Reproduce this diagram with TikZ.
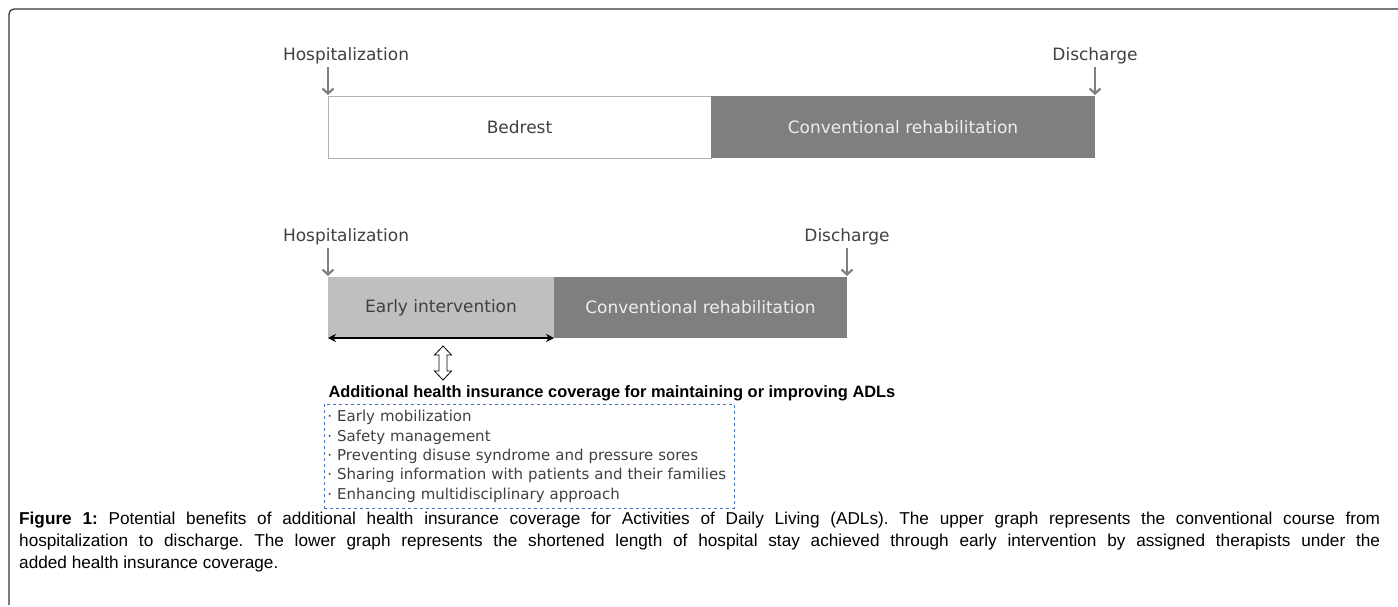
\documentclass[tikz,border=0pt]{standalone}
\usepackage{fontspec}
\setmainfont{DejaVu Sans}
\newfontfamily\capfont{Liberation Sans}
\usetikzlibrary{positioning,arrows.meta,calc}

\definecolor{darkbar}{HTML}{7F7F7F}
\definecolor{lightbar}{HTML}{BFBFBF}
\definecolor{labelgray}{HTML}{404040}
\definecolor{dashblue}{HTML}{4472C4}

\begin{document}
\begin{tikzpicture}[x=1pt,y=-1pt,node distance=0pt,shorten >=1pt]

  \tikzset{
    bar/.style={inner sep=0pt,outer sep=0pt,anchor=north west,text=labelgray,
      font=\fontsize{17}{20}\selectfont},
    darkpart/.style={bar,fill=darkbar,text=white!93!black},
    lbl/.style={anchor=base,text=labelgray,font=\fontsize{17}{20}\selectfont},
    garrow/.style={-{Straight Barb[length=5pt,width=11pt]},line width=2.2pt,darkbar},
    span/.style={{Stealth[length=8pt,width=8pt]}-{Stealth[length=8pt,width=8pt]},line width=2.2pt,black},
    hollow/.style={draw=black,fill=white,line width=0.8pt,line join=miter},
  }

   \useasboundingbox (0,0) rectangle (1398,606);
   \draw[black!80,line width=1.3pt,rounded corners=5pt] (1398,9) -- (9,9) -- (9,606);

   % upper graph
   \node[bar,draw=gray!60,fill=white,minimum width=383pt,minimum height=62pt] (bedrest) at (328,96) {Bedrest};
   \node[darkpart,minimum width=384pt,minimum height=62pt,right=of bedrest] (convA) {Conventional rehabilitation};

   \coordinate (hospA) at ($(bedrest.north west)+(0,-29)$);
   \coordinate (dischA) at ($(convA.north east)+(0,-29)$);
   \node[lbl] (hospAl) at ($(hospA)+(18,-7)$) {Hospitalization};
   \node[lbl] (dischAl) at ($(dischA)+(0,-7)$) {Discharge};
   \draw[garrow] (hospA) -- (bedrest.north west);
   \draw[garrow] (dischA) -- (convA.north east);

   % lower graph
   \node[bar,fill=lightbar,minimum width=226pt,minimum height=61pt] (early) at (328,277) {Early intervention};
   \node[darkpart,minimum width=293pt,minimum height=61pt,right=of early] (convB) {Conventional rehabilitation};

   \coordinate (hospB) at ($(early.north west)+(0,-29)$);
   \coordinate (dischB) at ($(convB.north east)+(0,-29)$);
   \node[lbl] (hospBl) at ($(hospB)+(18,-7)$) {Hospitalization};
   \node[lbl] (dischBl) at ($(dischB)+(0,-7)$) {Discharge};
   \draw[garrow] (hospB) -- (early.north west);
   \draw[garrow] (dischB) -- (convB.north east);

   \draw[span,shorten >=0pt] (early.south west) -- (early.south east);

   % hollow double arrow
   \coordinate (link) at (443,363);
   \draw[hollow] ($(link)+(0,-17)$) -- ++(8.5,9) -- ++(-4.5,0) -- ++(0,16) -- ++(4.5,0)
     -- ++(-8.5,9) -- ++(-8.5,-9) -- ++(4.5,0) -- ++(0,-16) -- ++(-4.5,0) -- cycle;

   % coverage
   \node[anchor=base west,font=\capfont\bfseries\fontsize{16.4}{18}\selectfont] (cover) at (325,397)
     {Additional health insurance coverage for maintaining or improving ADLs};
   \node[draw=dashblue,dashed,line width=0.8pt,anchor=north west,inner xsep=3pt,inner ysep=0pt,
     text width=404pt,minimum height=104pt,align=left,text=labelgray,
     font=\fontsize{15}{19.3}\selectfont] (items) at (324,404)
     {·\ Early mobilization\\
      ·\ Safety management\\
      ·\ Preventing disuse syndrome and pressure sores\\
      ·\ Sharing information with patients and their families\\
      ·\ Enhancing multidisciplinary approach};

   % caption
   \node[anchor=north west,inner sep=0pt,text width=1361pt,align=justify,
     font=\capfont\fontsize{17.2}{22}\selectfont\frenchspacing] (caption) at (19,512)
     {\textbf{Figure 1:} Potential benefits of additional health insurance coverage for Activities of Daily Living (ADLs). The upper graph represents the conventional course from\linebreak
      hospitalization to discharge. The lower graph represents the shortened length of hospital stay achieved through early intervention by assigned therapists under the\linebreak
      added health insurance coverage.};
\end{tikzpicture}
\end{document}
